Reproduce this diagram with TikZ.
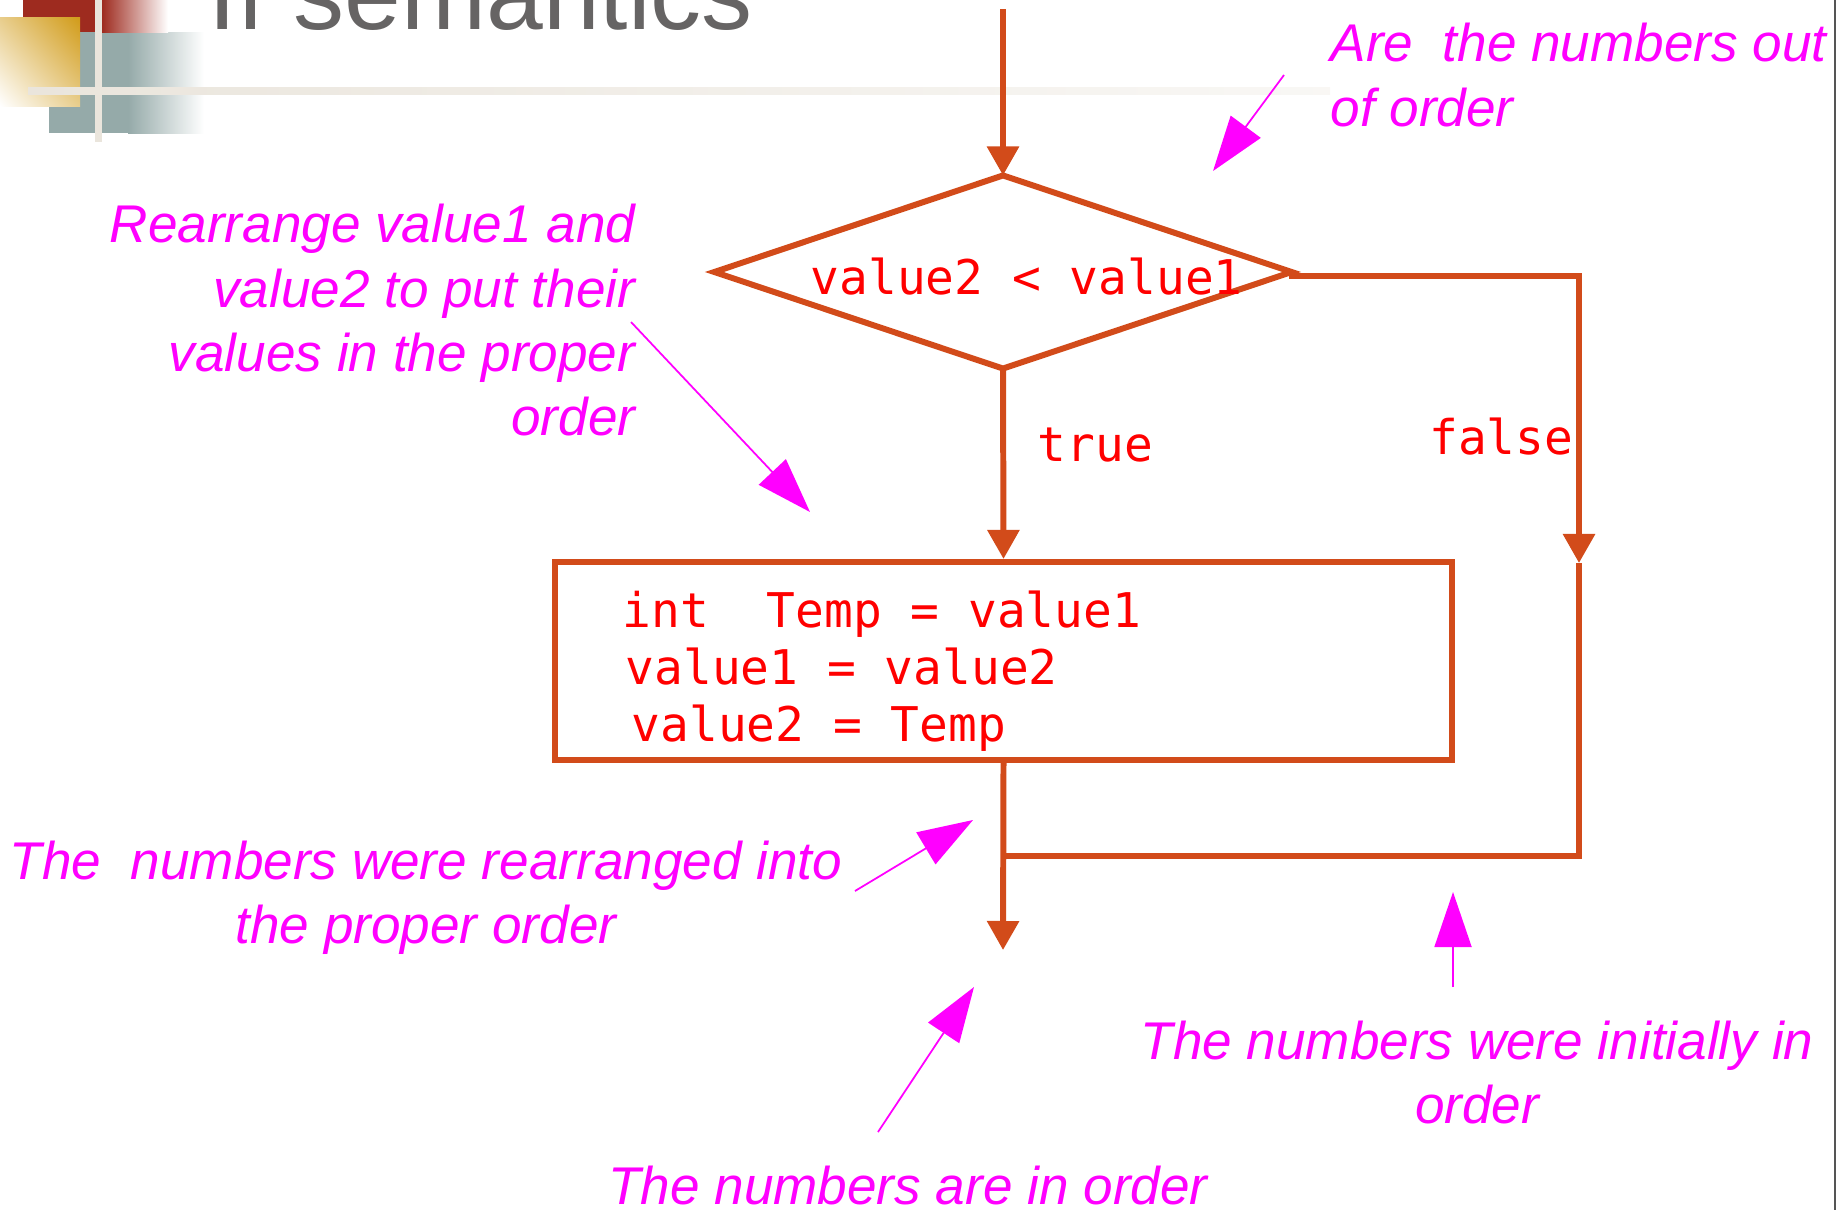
\documentclass[tikz,border=0pt]{standalone}
\usepackage{fontspec}
\setmainfont{Liberation Sans}
\newfontfamily\codefont{DejaVu Sans Mono}
\usetikzlibrary{arrows.meta,shapes.geometric,positioning,shadings}
\definecolor{flowline}{HTML}{D24B1A}
\definecolor{codered}{HTML}{FF0000}
\definecolor{notepink}{HTML}{FF00FF}
\definecolor{titlegrey}{HTML}{666464}
\definecolor{decored}{HTML}{9E2B1F}
\definecolor{decogold}{HTML}{D19B18}
\definecolor{decoteal}{HTML}{95AAA9}
\definecolor{decobeige}{HTML}{EAE5DC}
\definecolor{edgegrey}{HTML}{555555}
\tikzset{
  decision/.style={diamond, draw=flowline, line width=1.7pt, inner sep=0pt, outer sep=0pt,
                   minimum width=5.77cm, minimum height=1.93cm},
  process/.style={rectangle, draw=flowline, line width=1.7pt, inner sep=0pt,
                  minimum width=8.97cm, minimum height=1.98cm},
  code/.style={inner sep=0pt, align=left,
               font=\codefont\fontsize{13.6}{16.2}\selectfont\color{codered}},
  note/.style={inner sep=0pt,
               font=\itshape\fontsize{15.1}{18.2}\selectfont\color{notepink}},
  flow/.style={-{Triangle[width=0.31cm,length=0.29cm]}, line width=1.7pt, draw=flowline},
  link/.style={line width=1.7pt, draw=flowline},
  pointer/.style={-{Triangle[width=0.37cm,length=0.55cm]}, line width=0.5pt, draw=notepink}
}

\begin{document}
\begin{tikzpicture}[x=0.01cm,y=-0.01cm]
  \useasboundingbox (0,0) rectangle (1837,1209);
  % slide corner
  \fill[decoteal] (49,32) rectangle (128,133);
  \shade[left color=decoteal,right color=white] (128,32) rectangle (204,133);
  \fill[decored] (23,-10) rectangle (102,32);
  \shade[left color=decored,right color=white] (102,-10) rectangle (168,32);
  \shade[upper right=decogold,upper left=decogold!50!white,
         lower right=decogold!50!white,lower left=white] (0,17) rectangle (80,106);
  \fill[decobeige] (95,-10) rectangle (102,142);
  \shade[left color=decobeige,right color=decobeige!30!white] (28,87) rectangle (1330,94);
  \draw[edgegrey,line width=0.02cm] (1835,-5) -- (1835,1215);
  \node[anchor=base west,inner sep=0pt,
        font=\fontsize{29}{30}\selectfont\color{titlegrey}] (title) at (208,29) {If semantics};

  % flow chart
  \node[decision] (test) at (1003,272) {};
  \node[code,anchor=base west] (testtxt) at (810,294) {value2 < value1};
  \node[process] (swap) at (1003.5,661) {};
  \node[code,anchor=base west] (swaptxt) at (622,741)
    {int~~Temp = value1\\\hspace*{0.03cm}value1 = value2\\\hspace*{0.09cm}value2 = Temp};
  \coordinate (entry) at (1003,9);
  \coordinate (fdrop) at (1579,563);
  \coordinate (join) at (1003,856);
  \coordinate (done) at (1003,950);
  \draw[flow] (entry) -- (test.north);
  \draw[flow] (test.south) -- (swap.north);
  \draw[flow] (test.east) -- ++(0,4) -| (fdrop);
  \draw[link] (fdrop) |- (join);
  \draw[flow] (swap.south) -- (done);
  \node[code,anchor=base west] (truelbl) at (1037,461) {true};
  \node[code,anchor=base east] (falselbl) at (1574,454) {false};

  % notes (base = last line)
  \node[note,anchor=base west,align=left] (outq) at (1330,126) {Are~~the numbers out\\of order};
  \node[note,anchor=base east,align=right] (rearr) at (636,435)
    {Rearrange value1 and\\value2 to put their\\values in the proper\\order};
  \node[note,anchor=base,align=center] (wasswap) at (426,943)
    {The~~numbers were rearranged into\\the proper order};
  \node[note,anchor=base] (inorder) at (908,1204) {The numbers are in order};
  \node[note,anchor=base,align=center] (wasok) at (1477,1123) {The numbers were initially in\\order};
  \coordinate (outqtail) at (1284,75);   \coordinate (outqtip) at (1213,171);
  \coordinate (rearrtail) at (631,322);  \coordinate (rearrtip) at (810,512);
  \coordinate (swaptail) at (855,891);   \coordinate (swaptip) at (973,820);
  \coordinate (ordtail) at (878,1132);   \coordinate (ordtip) at (974,987);
  \coordinate (oktail) at (1453,987);    \coordinate (oktip) at (1453,892);
  \draw[pointer] (outqtail) -- (outqtip);
  \draw[pointer] (rearrtail) -- (rearrtip);
  \draw[pointer] (swaptail) -- (swaptip);
  \draw[pointer] (ordtail) -- (ordtip);
  \draw[pointer] (oktail) -- (oktip);
\end{tikzpicture}
\end{document}
